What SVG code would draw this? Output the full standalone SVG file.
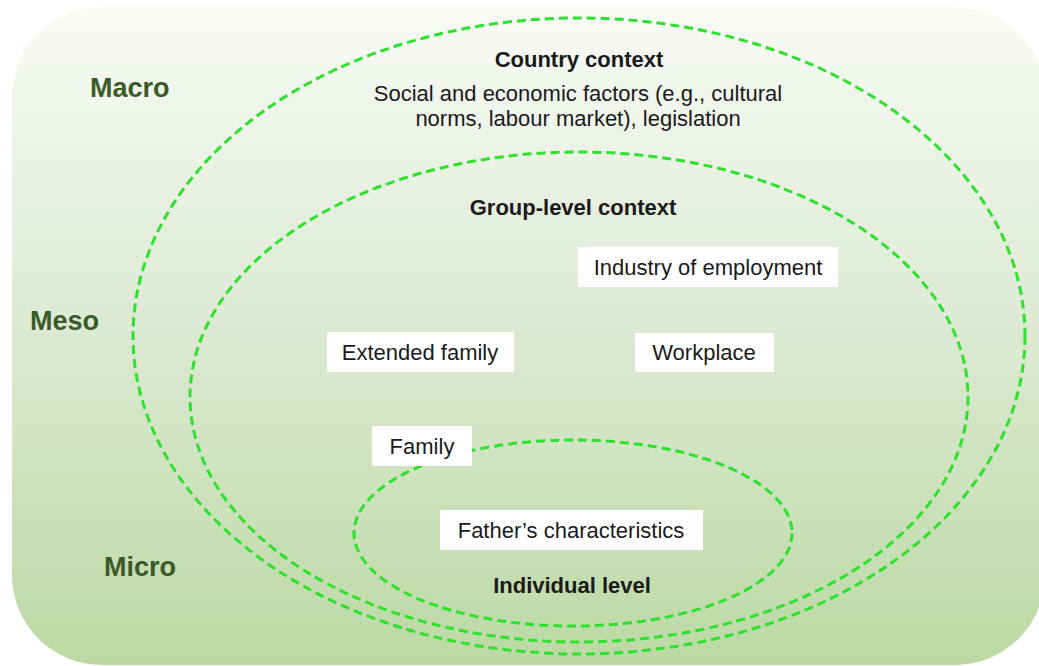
<svg xmlns="http://www.w3.org/2000/svg" width="1039" height="666" viewBox="0 0 1039 666">
  <defs>
    <linearGradient id="bgGrad" x1="0" y1="0" x2="0" y2="1">
      <stop offset="0" stop-color="#f8fbf6"/>
      <stop offset="0.5" stop-color="#dce9d2"/>
      <stop offset="1" stop-color="#bbd9a4"/>
    </linearGradient>
  </defs>
  <style>
    .ring { fill: none; stroke: #2fe02f; stroke-width: 3; stroke-dasharray: 9 5; }
    .box { fill: #ffffff; }
    .lbl { font-family: "Liberation Sans", Arial, sans-serif; font-size: 22px; fill: #1a1a1a; text-anchor: middle; }
    .title { font-family: "Liberation Sans", Arial, sans-serif; font-size: 22px; font-weight: bold; fill: #1a1a1a; text-anchor: middle; }
    .level { font-family: "Liberation Sans", Arial, sans-serif; font-size: 27px; font-weight: bold; fill: #3b5a29; }
  </style>

  <!-- background panel -->
  <rect x="12" y="7" width="1033" height="658" rx="90" ry="90" fill="url(#bgGrad)"/>

  <!-- level labels -->
  <g id="level-macro"><text class="level" x="90" y="97">Macro</text></g>
  <g id="level-meso"><text class="level" x="30" y="330">Meso</text></g>
  <g id="level-micro"><text class="level" x="104" y="576">Micro</text></g>

  <!-- nested context rings -->
  <g id="rings">
    <ellipse id="ring-country" class="ring" cx="579" cy="336" rx="446" ry="318"/>
    <ellipse id="ring-group" class="ring" cx="579" cy="397" rx="389" ry="245"/>
    <ellipse id="ring-individual" class="ring" cx="573" cy="533" rx="219" ry="93"/>
  </g>

  <!-- ring titles -->
  <g id="country-context">
    <text class="title" x="579" y="67">Country context</text>
    <text class="lbl" x="578" y="101">Social and economic factors (e.g., cultural</text>
    <text class="lbl" x="578" y="126">norms, labour market), legislation</text>
  </g>
  <g id="group-context">
    <text class="title" x="573" y="215">Group-level context</text>
  </g>
  <g id="individual-level">
    <text class="title" x="572" y="593">Individual level</text>
  </g>

  <!-- boxed factors -->
  <g id="industry">
    <rect class="box" x="578" y="247" width="260" height="40"/>
    <text class="lbl" x="708" y="275">Industry of employment</text>
  </g>
  <g id="extended-family">
    <rect class="box" x="327" y="332" width="187" height="40"/>
    <text class="lbl" x="420" y="360">Extended family</text>
  </g>
  <g id="workplace">
    <rect class="box" x="635" y="333" width="139" height="39"/>
    <text class="lbl" x="704" y="360">Workplace</text>
  </g>
  <g id="family">
    <rect class="box" x="372" y="426" width="100" height="40"/>
    <text class="lbl" x="422" y="454">Family</text>
  </g>
  <g id="fathers-characteristics">
    <rect class="box" x="440" y="510" width="263" height="40"/>
    <text class="lbl" x="571" y="538">Father’s characteristics</text>
  </g>
</svg>
